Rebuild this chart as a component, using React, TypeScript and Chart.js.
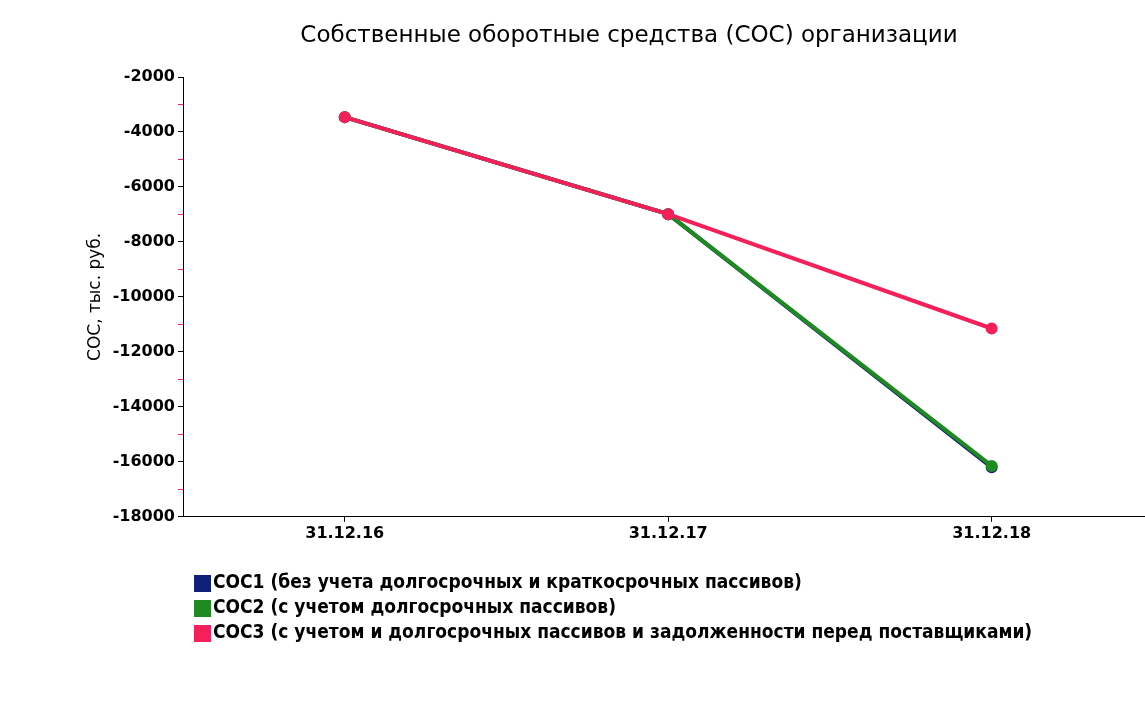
import React, { useEffect, useRef } from "react";
import { Chart, registerables } from "chart.js";

Chart.register(...registerables);

const TITLE = "Собственные оборотные средства (СОС) организации";
const Y_TITLE = "СОС, тыс. руб.";
const categories = ["31.12.16", "31.12.17", "31.12.18"];
const soc1 = [-3460, -6990, -16200];
const soc2 = [-3460, -6990, -16150];
const soc3 = [-3460, -6990, -11150];
const seriesNames = [
  "СОС1 (без учета долгосрочных и краткосрочных пассивов)",
  "СОС2 (с учетом долгосрочных пассивов)",
  "СОС3 (с учетом и долгосрочных пассивов и задолженности перед поставщиками)",
];
const seriesColors = ["#10207a", "#1f8a1f", "#f5205a"];

const FONT = "'DejaVu Sans', 'Liberation Sans', sans-serif";

const overlayPlugin = {
  id: "overlay",
  afterDraw(chart: any) {
    const ctx = chart.ctx;
    ctx.save();
    ctx.fillStyle = "#000";
    ctx.font = `23px ${FONT}`;
    ctx.textAlign = "center";
    ctx.textBaseline = "middle";
    ctx.fillText(TITLE, 629, 36);
    ctx.textAlign = "left";
    ctx.font = `bold 19px 'DejaVu Sans Condensed', ${FONT}`;
    const rows = [583, 608, 633];
    seriesNames.forEach((name, i) => {
      ctx.fillStyle = seriesColors[i];
      ctx.fillRect(194, rows[i] - 8, 17, 17);
      ctx.fillStyle = "#000";
      ctx.fillText(name, 213, rows[i]);
    });
    ctx.restore();
  },
};

export default function App() {
  const ref = useRef<HTMLCanvasElement>(null);
  useEffect(() => {
    if (!ref.current) return;
    const mk = (vals: number[]) => vals.map((v, i) => ({ x: i, y: v }));
    const chart = new Chart(ref.current, {
      type: "line",
      data: {
        datasets: [
          { label: seriesNames[0], data: mk(soc1), borderColor: seriesColors[0], backgroundColor: seriesColors[0], borderWidth: 4, pointRadius: 4, order: 3 },
          { label: seriesNames[1], data: mk(soc2), borderColor: seriesColors[1], backgroundColor: seriesColors[1], borderWidth: 4, pointRadius: 4, order: 2 },
          { label: seriesNames[2], data: mk(soc3), borderColor: seriesColors[2], backgroundColor: seriesColors[2], borderWidth: 4, pointRadius: 4, order: 1 },
        ],
      },
      options: {
        animation: false,
        responsive: false,
        layout: { autoPadding: false, padding: { top: 77, left: 85, right: 0, bottom: 160 } },
        plugins: { legend: { display: false }, title: { display: false }, tooltip: { enabled: false } },
        scales: {
          x: {
            type: "linear",
            min: -0.5,
            max: 2.474,
            afterBuildTicks: (s: any) => {
              s.ticks = categories.map((_, i) => ({ value: i }));
            },
            ticks: {
              callback: (v: any) => categories[v] ?? "",
              color: "#000",
              font: { family: FONT, size: 16, weight: "bold" },
              padding: 2,
              maxRotation: 0,
            },
            grid: { drawOnChartArea: false, color: "#000", tickLength: 5 },
            border: { color: "#000", width: 1 },
          },
          y: {
            min: -18000,
            max: -2000,
            afterFit: (s: any) => {
              s.width = 98;
            },
            ticks: {
              stepSize: 1000,
              autoSkip: false,
              callback: (v: any) => (v % 2000 === 0 ? String(v) : ""),
              color: "#000",
              font: { family: FONT, size: 16, weight: "bold" },
              padding: 3,
            },
            grid: {
              drawOnChartArea: false,
              tickLength: 5,
              color: (c: any) => (c.tick && c.tick.value % 2000 !== 0 ? "#f5205a" : "#000"),
            },
            border: { color: "#000", width: 1 },
            title: {
              display: true,
              text: Y_TITLE,
              color: "#000",
              font: { family: FONT, size: 17 },
              padding: { top: 0, bottom: 4 },
            },
          },
        },
      },
      plugins: [overlayPlugin],
    });
    return () => chart.destroy();
  }, []);
  return (
    <div style={{ position: "fixed", left: 0, top: 0, width: 1145, height: 705, background: "#fff" }}>
      <canvas ref={ref} width={1145} height={705} />
    </div>
  );
}
